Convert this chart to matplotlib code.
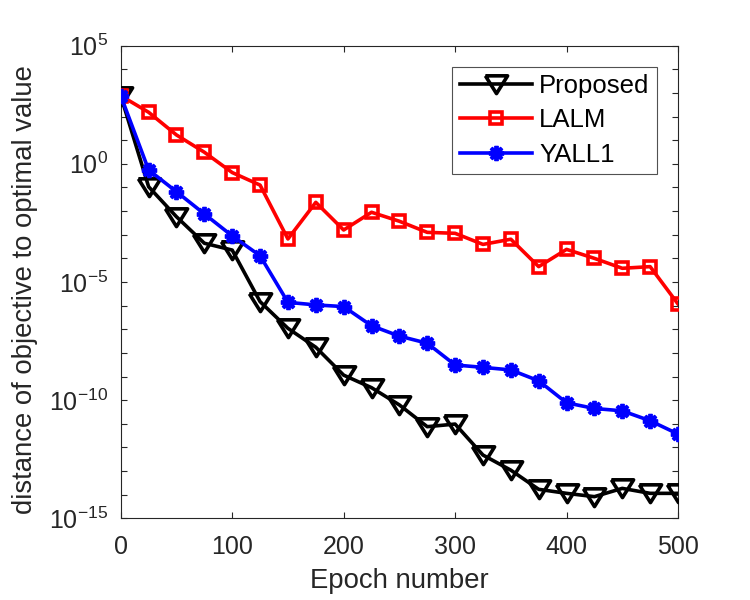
import numpy as np
import matplotlib
matplotlib.use("Agg")
import matplotlib.pyplot as plt
from matplotlib.ticker import FixedLocator, NullFormatter

plt.rcParams['font.family'] = ['Liberation Sans', 'DejaVu Sans']
plt.rcParams['mathtext.fontset'] = 'custom'
plt.rcParams['mathtext.rm'] = 'Liberation Sans'
plt.rcParams['mathtext.it'] = 'Liberation Sans'
plt.rcParams['mathtext.bf'] = 'Liberation Sans'
plt.rcParams['axes.unicode_minus'] = False

epochs = np.arange(0, 501, 25)

proposed_log = [2.88, -0.97, -2.24, -3.36, -3.65, -5.83, -6.96, -7.76, -8.94, -9.47,
                -10.20, -11.12, -11.01, -12.32, -12.96, -13.77, -13.94, -14.08,
                -13.73, -13.94, -13.94]
lalm_log = [2.88, 2.18, 1.22, 0.49, -0.37, -0.90, -3.18, -1.63, -2.80, -2.05,
            -2.43, -2.90, -2.94, -3.41, -3.19, -4.35, -3.62, -4.00, -4.42,
            -4.35, -5.93]
yall1_log = [2.88, -0.26, -1.18, -2.12, -3.05, -3.89, -5.86, -5.97, -6.04, -6.85,
             -7.29, -7.59, -8.51, -8.61, -8.72, -9.18, -10.11, -10.35, -10.45,
             -10.87, -11.43]

proposed = 10.0 ** np.array(proposed_log)
lalm = 10.0 ** np.array(lalm_log)
yall1 = 10.0 ** np.array(yall1_log)

series_names = ["Proposed", "LALM", "YALL1"]
ytick_exps = [-15, -10, -5, 0, 5]

# MATLAB-like downward triangle (wider than tall)
tri_down = [(-1.0, 0.78), (1.0, 0.78), (0.0, -0.82), (-1.0, 0.78)]

fig = plt.figure(figsize=(7.5, 6), dpi=100)
ax = fig.add_axes([0.161, 0.136, 0.743, 0.788])

ax.semilogy(epochs, proposed, color='black', lw=2.6, marker=tri_down, ms=16,
            mfc='none', mew=2.6, label=series_names[0], zorder=3)
ax.semilogy(epochs, lalm, color='#ff0000', lw=2.6, marker='s', ms=8,
            mfc='none', mew=2.6, label=series_names[1], zorder=4)
ax.semilogy(epochs, yall1, color='#0000ff', lw=2.6, marker=(8, 2, 0), ms=11,
            mfc='none', mew=2.8, label=series_names[2], zorder=5)

ax.set_xlim(0, 500)
ax.set_ylim(1e-15, 1e5)
ax.set_xticks([0, 100, 200, 300, 400, 500])
ax.yaxis.set_major_locator(FixedLocator([10.0 ** e for e in ytick_exps]))
ax.yaxis.set_minor_locator(FixedLocator([10.0 ** k for k in range(-15, 6)]))
ax.yaxis.set_minor_formatter(NullFormatter())
ax.set_yticklabels([r'$10^{%d}$' % e for e in ytick_exps])

ax.tick_params(which='both', direction='in', top=True, right=True,
               labelsize=18, color='#262626', labelcolor='#262626',
               width=0.8, length=4.5)
ax.tick_params(axis='x', which='both', pad=12)
ax.tick_params(axis='y', which='both', pad=9)
for s in ax.spines.values():
    s.set_color('#262626')
    s.set_linewidth(0.8)

ax.set_xlabel('Epoch number', fontsize=19.8, color='#262626')
ax.set_ylabel('distance of objective to optimal value', fontsize=19.8,
              color='#262626')
ax.xaxis.set_label_coords(0.5, -0.105)
ax.yaxis.set_label_coords(-0.149, 0.484)

leg = ax.legend(loc='upper right', bbox_to_anchor=(0.962, 0.955), fontsize=18.5,
                frameon=True, fancybox=False, edgecolor='#262626',
                handlelength=2.8, handletextpad=0.3, borderpad=0.28,
                labelspacing=0.4, borderaxespad=0)
leg.get_frame().set_linewidth(0.8)

fig.savefig('out.png', dpi=100)
